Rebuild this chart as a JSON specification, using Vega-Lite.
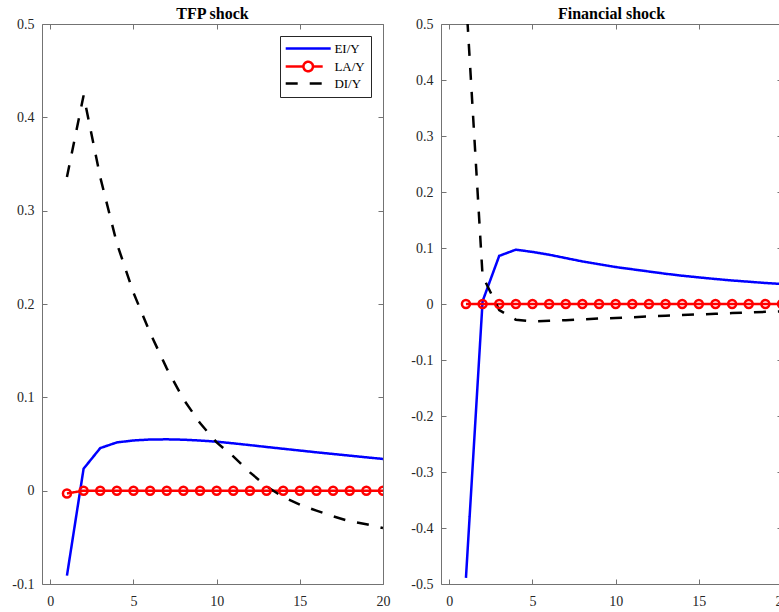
{
  "$schema": "https://vega.github.io/schema/vega-lite/v6.json",
  "padding": {"left": 11, "top": 6, "right": 0, "bottom": 0},
  "background": "white",
  "bounds": "flush",
  "spacing": 58,
  "config": {
    "font": "Liberation Serif",
    "view": {"stroke": null},
    "axis": {
      "grid": false,
      "domainColor": "#737373",
      "domainWidth": 1,
      "tickColor": "#737373",
      "tickWidth": 1,
      "tickSize": -5,
      "labelFont": "Liberation Serif",
      "labelFontSize": 14,
      "labelColor": "#262626",
      "labelFlush": false,
      "labelOverlap": false,
      "labelBound": false,
      "zindex": 1
    },
    "title": {"font": "Liberation Serif", "fontSize": 16, "fontWeight": "bold", "color": "#000000", "offset": -5, "baseline": "alphabetic", "anchor": "middle"}
  },
  "datasets": {
    "tfp": [
      {"t": 1, "series": "EI/Y", "v": -0.091},
      {"t": 2, "series": "EI/Y", "v": 0.0235},
      {"t": 3, "series": "EI/Y", "v": 0.0456},
      {"t": 4, "series": "EI/Y", "v": 0.0517},
      {"t": 5, "series": "EI/Y", "v": 0.0538},
      {"t": 6, "series": "EI/Y", "v": 0.0548},
      {"t": 7, "series": "EI/Y", "v": 0.055},
      {"t": 8, "series": "EI/Y", "v": 0.0546},
      {"t": 9, "series": "EI/Y", "v": 0.0537},
      {"t": 10, "series": "EI/Y", "v": 0.0525},
      {"t": 11, "series": "EI/Y", "v": 0.0507},
      {"t": 12, "series": "EI/Y", "v": 0.0488},
      {"t": 13, "series": "EI/Y", "v": 0.0468},
      {"t": 14, "series": "EI/Y", "v": 0.0449},
      {"t": 15, "series": "EI/Y", "v": 0.043},
      {"t": 16, "series": "EI/Y", "v": 0.0411},
      {"t": 17, "series": "EI/Y", "v": 0.0393},
      {"t": 18, "series": "EI/Y", "v": 0.0375},
      {"t": 19, "series": "EI/Y", "v": 0.0357},
      {"t": 20, "series": "EI/Y", "v": 0.034},
      {"t": 1, "series": "LA/Y", "v": -0.003},
      {"t": 2, "series": "LA/Y", "v": 0},
      {"t": 3, "series": "LA/Y", "v": 0},
      {"t": 4, "series": "LA/Y", "v": 0},
      {"t": 5, "series": "LA/Y", "v": 0},
      {"t": 6, "series": "LA/Y", "v": 0},
      {"t": 7, "series": "LA/Y", "v": 0},
      {"t": 8, "series": "LA/Y", "v": 0},
      {"t": 9, "series": "LA/Y", "v": 0},
      {"t": 10, "series": "LA/Y", "v": 0},
      {"t": 11, "series": "LA/Y", "v": 0},
      {"t": 12, "series": "LA/Y", "v": 0},
      {"t": 13, "series": "LA/Y", "v": 0},
      {"t": 14, "series": "LA/Y", "v": 0},
      {"t": 15, "series": "LA/Y", "v": 0},
      {"t": 16, "series": "LA/Y", "v": 0},
      {"t": 17, "series": "LA/Y", "v": 0},
      {"t": 18, "series": "LA/Y", "v": 0},
      {"t": 19, "series": "LA/Y", "v": 0},
      {"t": 20, "series": "LA/Y", "v": 0},
      {"t": 1, "series": "DI/Y", "v": 0.336},
      {"t": 2, "series": "DI/Y", "v": 0.4235},
      {"t": 3, "series": "DI/Y", "v": 0.336},
      {"t": 4, "series": "DI/Y", "v": 0.265},
      {"t": 5, "series": "DI/Y", "v": 0.212},
      {"t": 6, "series": "DI/Y", "v": 0.169},
      {"t": 7, "series": "DI/Y", "v": 0.131},
      {"t": 8, "series": "DI/Y", "v": 0.098},
      {"t": 9, "series": "DI/Y", "v": 0.0724},
      {"t": 10, "series": "DI/Y", "v": 0.0517},
      {"t": 11, "series": "DI/Y", "v": 0.0367},
      {"t": 12, "series": "DI/Y", "v": 0.0196},
      {"t": 13, "series": "DI/Y", "v": 0.0046},
      {"t": 14, "series": "DI/Y", "v": -0.0068},
      {"t": 15, "series": "DI/Y", "v": -0.015},
      {"t": 16, "series": "DI/Y", "v": -0.0214},
      {"t": 17, "series": "DI/Y", "v": -0.0275},
      {"t": 18, "series": "DI/Y", "v": -0.0328},
      {"t": 19, "series": "DI/Y", "v": -0.036},
      {"t": 20, "series": "DI/Y", "v": -0.04}
    ],
    "fin": [
      {"t": 1, "series": "EI/Y", "v": -0.489},
      {"t": 2, "series": "EI/Y", "v": 0.005},
      {"t": 3, "series": "EI/Y", "v": 0.086},
      {"t": 4, "series": "EI/Y", "v": 0.097},
      {"t": 5, "series": "EI/Y", "v": 0.093},
      {"t": 6, "series": "EI/Y", "v": 0.088},
      {"t": 7, "series": "EI/Y", "v": 0.082},
      {"t": 8, "series": "EI/Y", "v": 0.076},
      {"t": 9, "series": "EI/Y", "v": 0.071},
      {"t": 10, "series": "EI/Y", "v": 0.066},
      {"t": 11, "series": "EI/Y", "v": 0.062},
      {"t": 12, "series": "EI/Y", "v": 0.058},
      {"t": 13, "series": "EI/Y", "v": 0.054},
      {"t": 14, "series": "EI/Y", "v": 0.0505},
      {"t": 15, "series": "EI/Y", "v": 0.0475},
      {"t": 16, "series": "EI/Y", "v": 0.0446},
      {"t": 17, "series": "EI/Y", "v": 0.042},
      {"t": 18, "series": "EI/Y", "v": 0.0398},
      {"t": 19, "series": "EI/Y", "v": 0.0375},
      {"t": 20, "series": "EI/Y", "v": 0.0357},
      {"t": 1, "series": "LA/Y", "v": 0},
      {"t": 2, "series": "LA/Y", "v": 0},
      {"t": 3, "series": "LA/Y", "v": 0},
      {"t": 4, "series": "LA/Y", "v": 0},
      {"t": 5, "series": "LA/Y", "v": 0},
      {"t": 6, "series": "LA/Y", "v": 0},
      {"t": 7, "series": "LA/Y", "v": 0},
      {"t": 8, "series": "LA/Y", "v": 0},
      {"t": 9, "series": "LA/Y", "v": 0},
      {"t": 10, "series": "LA/Y", "v": 0},
      {"t": 11, "series": "LA/Y", "v": 0},
      {"t": 12, "series": "LA/Y", "v": 0},
      {"t": 13, "series": "LA/Y", "v": 0},
      {"t": 14, "series": "LA/Y", "v": 0},
      {"t": 15, "series": "LA/Y", "v": 0},
      {"t": 16, "series": "LA/Y", "v": 0},
      {"t": 17, "series": "LA/Y", "v": 0},
      {"t": 18, "series": "LA/Y", "v": 0},
      {"t": 19, "series": "LA/Y", "v": 0},
      {"t": 20, "series": "LA/Y", "v": 0},
      {"t": 1, "series": "DI/Y", "v": 0.55},
      {"t": 2, "series": "DI/Y", "v": 0.05},
      {"t": 3, "series": "DI/Y", "v": -0.011},
      {"t": 4, "series": "DI/Y", "v": -0.028},
      {"t": 5, "series": "DI/Y", "v": -0.031},
      {"t": 6, "series": "DI/Y", "v": -0.03},
      {"t": 7, "series": "DI/Y", "v": -0.029},
      {"t": 8, "series": "DI/Y", "v": -0.0275},
      {"t": 9, "series": "DI/Y", "v": -0.026},
      {"t": 10, "series": "DI/Y", "v": -0.025},
      {"t": 11, "series": "DI/Y", "v": -0.0236},
      {"t": 12, "series": "DI/Y", "v": -0.0222},
      {"t": 13, "series": "DI/Y", "v": -0.021},
      {"t": 14, "series": "DI/Y", "v": -0.0198},
      {"t": 15, "series": "DI/Y", "v": -0.0186},
      {"t": 16, "series": "DI/Y", "v": -0.0174},
      {"t": 17, "series": "DI/Y", "v": -0.0162},
      {"t": 18, "series": "DI/Y", "v": -0.015},
      {"t": 19, "series": "DI/Y", "v": -0.014},
      {"t": 20, "series": "DI/Y", "v": -0.013}
    ]
  },
  "hconcat": [
    {
      "title": {"text": "TFP shock"},
      "width": 341,
      "height": 560,
      "data": {"name": "tfp"},
      "layer": [
        {
          "mark": {"type": "line", "strokeWidth": 2.5, "clip": true},
          "encoding": {
            "x": {"field": "t", "type": "quantitative", "title": null,
              "scale": {"domain": [-0.5, 20], "nice": false, "zero": false},
              "axis": {"orient": "bottom", "values": [0, 5, 10, 15, 20], "labelPadding": 15}},
            "y": {"field": "v", "type": "quantitative", "title": null,
              "scale": {"domain": [-0.1, 0.5], "nice": false, "zero": false},
              "axis": {"orient": "left", "values": [-0.1, 0, 0.1, 0.2, 0.3, 0.4, 0.5], "labelExpr": "'' + round(datum.value * 10) / 10", "labelPadding": 13}},
            "color": {"field": "series", "type": "nominal",
              "scale": {"domain": ["EI/Y", "LA/Y", "DI/Y"], "range": ["#0000ff", "#ff0000", "#000000"]},
              "legend": {"title": null, "orient": "none", "legendX": 238, "legendY": 12, "direction": "vertical",
                "padding": 6, "fillColor": "white", "strokeColor": "#262626",
                "symbolSize": 100, "symbolStrokeWidth": 2.5, "symbolOffset": 15.7, "labelOffset": 19.7,
                "labelFont": "Liberation Serif", "labelFontSize": 13, "labelColor": "#000000", "rowPadding": 0,
                "encode": {"symbols": {"update": {
                  "shape": {"signal": "datum.value === 'LA/Y' ? 'M-4.5,0H-0.95M0.95,0H2.9M0.95,0A0.95,0.95 0 1,1 -0.95,0A0.95,0.95 0 1,1 0.95,0' : 'M-4.5,0H4.5'"},
                  "strokeDash": {"signal": "datum.value === 'DI/Y' ? [17, 10] : [1, 0]"},
                  "fill": {"value": "transparent"}
                }}}}},
            "strokeDash": {"field": "series", "type": "nominal",
              "scale": {"domain": ["EI/Y", "LA/Y", "DI/Y"], "range": [[1, 0], [1, 0], [12, 12]]},
              "legend": {"title": null, "orient": "none", "legendX": 238, "legendY": 12, "direction": "vertical",
                "padding": 6, "fillColor": "white", "strokeColor": "#262626",
                "symbolSize": 100, "symbolStrokeWidth": 2.5, "symbolOffset": 15.7, "labelOffset": 19.7,
                "labelFont": "Liberation Serif", "labelFontSize": 13, "labelColor": "#000000", "rowPadding": 0,
                "encode": {"symbols": {"update": {
                  "shape": {"signal": "datum.value === 'LA/Y' ? 'M-4.5,0H-0.95M0.95,0H2.9M0.95,0A0.95,0.95 0 1,1 -0.95,0A0.95,0.95 0 1,1 0.95,0' : 'M-4.5,0H4.5'"},
                  "strokeDash": {"signal": "datum.value === 'DI/Y' ? [17, 10] : [1, 0]"},
                  "fill": {"value": "transparent"}
                }}}}}
          }
        },
        {
          "transform": [{"filter": "datum.series === 'LA/Y'"}],
          "mark": {"type": "point", "filled": false, "size": 64, "strokeWidth": 2.5, "color": "#ff0000", "opacity": 1, "clip": true},
          "encoding": {
            "x": {"field": "t", "type": "quantitative", "title": null,
              "scale": {"domain": [-0.5, 20], "nice": false, "zero": false},
              "axis": {"orient": "top", "values": [0, 5, 10, 15, 20], "labels": false}},
            "y": {"field": "v", "type": "quantitative", "title": null,
              "scale": {"domain": [-0.1, 0.5], "nice": false, "zero": false},
              "axis": {"orient": "right", "values": [-0.1, 0, 0.1, 0.2, 0.3, 0.4, 0.5], "labels": false}}
          }
        }
      ],
      "resolve": {"axis": {"x": "independent", "y": "independent"}}
    },
    {
      "title": {"text": "Financial shock"},
      "width": 341,
      "height": 560,
      "data": {"name": "fin"},
      "layer": [
        {
          "mark": {"type": "line", "strokeWidth": 2.5, "clip": true},
          "encoding": {
            "x": {"field": "t", "type": "quantitative", "title": null,
              "scale": {"domain": [-0.5, 20], "nice": false, "zero": false},
              "axis": {"orient": "bottom", "values": [0, 5, 10, 15, 20], "labelPadding": 15}},
            "y": {"field": "v", "type": "quantitative", "title": null,
              "scale": {"domain": [-0.5, 0.5], "nice": false, "zero": false},
              "axis": {"orient": "left", "values": [-0.5, -0.4, -0.3, -0.2, -0.1, 0, 0.1, 0.2, 0.3, 0.4, 0.5], "labelExpr": "'' + round(datum.value * 10) / 10", "labelPadding": 13}},
            "color": {"field": "series", "type": "nominal",
              "scale": {"domain": ["EI/Y", "LA/Y", "DI/Y"], "range": ["#0000ff", "#ff0000", "#000000"]},
              "legend": null},
            "strokeDash": {"field": "series", "type": "nominal",
              "scale": {"domain": ["EI/Y", "LA/Y", "DI/Y"], "range": [[1, 0], [1, 0], [12, 12]]},
              "legend": null}
          }
        },
        {
          "transform": [{"filter": "datum.series === 'LA/Y'"}],
          "mark": {"type": "point", "filled": false, "size": 64, "strokeWidth": 2.5, "color": "#ff0000", "opacity": 1, "clip": true},
          "encoding": {
            "x": {"field": "t", "type": "quantitative", "title": null,
              "scale": {"domain": [-0.5, 20], "nice": false, "zero": false},
              "axis": {"orient": "top", "values": [0, 5, 10, 15, 20], "labels": false}},
            "y": {"field": "v", "type": "quantitative", "title": null,
              "scale": {"domain": [-0.5, 0.5], "nice": false, "zero": false},
              "axis": {"orient": "right", "values": [-0.5, -0.4, -0.3, -0.2, -0.1, 0, 0.1, 0.2, 0.3, 0.4, 0.5], "labels": false}}
          }
        }
      ],
      "resolve": {"axis": {"x": "independent", "y": "independent"}}
    }
  ]
}
